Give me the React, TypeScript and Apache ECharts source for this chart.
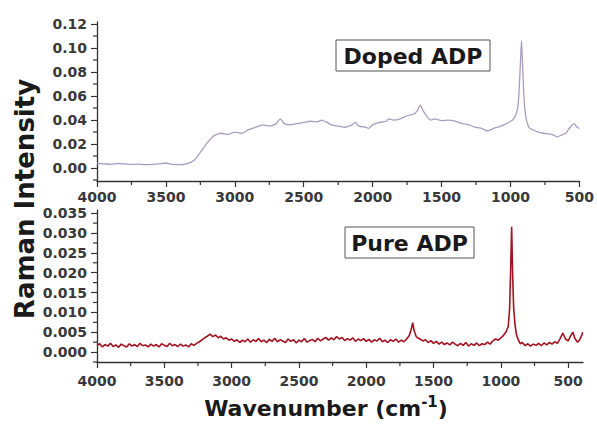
import React, { useEffect, useRef } from "react";
import * as echarts from "echarts";

const dopedWave = [4000,3950,3900,3850,3800,3750,3700,3650,3600,3550,3500,3450,3400,3350,3300,3250,3200,3150,3100,3050,3000,2950,2900,2850,2800,2750,2700,2670,2640,2600,2550,2500,2450,2400,2370,2330,2300,2250,2200,2150,2125,2100,2050,2030,2000,1950,1900,1885,1850,1800,1740,1700,1675,1655,1635,1600,1575,1550,1500,1450,1400,1350,1300,1260,1220,1165,1120,1070,1020,985,962,945,935,927,920,913,905,895,880,860,840,800,760,730,700,680,660,630,600,580,560,540,520,500];
const dopedIntensity = [0.0040,0.0035,0.0030,0.0038,0.0035,0.0030,0.0032,0.0028,0.0030,0.0035,0.0042,0.0030,0.0028,0.0035,0.0060,0.0130,0.0210,0.0270,0.0290,0.0280,0.0300,0.0290,0.0320,0.0340,0.0360,0.0350,0.0370,0.0410,0.0370,0.0360,0.0370,0.0380,0.0390,0.0385,0.0400,0.0380,0.0360,0.0350,0.0340,0.0360,0.0380,0.0350,0.0340,0.0330,0.0360,0.0380,0.0390,0.0410,0.0400,0.0410,0.0440,0.0450,0.0480,0.0525,0.0480,0.0420,0.0400,0.0410,0.0395,0.0400,0.0390,0.0370,0.0360,0.0340,0.0335,0.0310,0.0330,0.0350,0.0375,0.0400,0.0440,0.0520,0.0700,0.0900,0.1060,0.0880,0.0650,0.0480,0.0380,0.0330,0.0320,0.0300,0.0290,0.0285,0.0280,0.0270,0.0260,0.0275,0.0290,0.0320,0.0350,0.0370,0.0345,0.0330];

const pureWave = [4000,3980,3960,3940,3920,3900,3880,3860,3840,3820,3800,3780,3760,3740,3720,3700,3680,3660,3640,3620,3600,3580,3560,3540,3520,3500,3480,3460,3440,3420,3400,3380,3360,3340,3320,3300,3280,3260,3240,3220,3200,3180,3160,3140,3120,3100,3080,3060,3040,3020,3000,2980,2960,2940,2920,2900,2880,2860,2840,2820,2800,2780,2760,2740,2720,2700,2680,2660,2640,2620,2600,2580,2560,2540,2520,2500,2480,2460,2440,2420,2400,2380,2360,2340,2320,2300,2280,2260,2240,2220,2200,2180,2160,2140,2120,2100,2080,2060,2040,2020,2000,1980,1960,1940,1920,1900,1880,1860,1840,1820,1800,1780,1760,1740,1720,1700,1680,1665,1655,1645,1630,1620,1600,1580,1560,1540,1520,1500,1480,1460,1440,1420,1400,1380,1360,1340,1320,1300,1280,1260,1240,1220,1200,1180,1160,1140,1120,1100,1080,1060,1040,1020,1000,980,960,945,935,928,920,913,905,895,885,870,855,840,820,800,780,760,740,720,700,680,660,640,620,600,580,560,540,520,500,480,465,450,430,415,400,392];
const pureIntensity = [0.0016,0.0021,0.0013,0.0019,0.0015,0.0022,0.0014,0.0018,0.0012,0.0020,0.0016,0.0013,0.0021,0.0015,0.0019,0.0014,0.0022,0.0016,0.0018,0.0013,0.0020,0.0015,0.0019,0.0013,0.0021,0.0017,0.0014,0.0022,0.0016,0.0019,0.0014,0.0020,0.0015,0.0018,0.0013,0.0021,0.0017,0.0022,0.0026,0.0031,0.0036,0.0040,0.0045,0.0039,0.0043,0.0036,0.0040,0.0033,0.0036,0.0030,0.0033,0.0027,0.0031,0.0024,0.0030,0.0026,0.0033,0.0025,0.0031,0.0027,0.0034,0.0026,0.0030,0.0024,0.0032,0.0027,0.0035,0.0026,0.0031,0.0028,0.0024,0.0033,0.0027,0.0031,0.0023,0.0030,0.0026,0.0034,0.0025,0.0029,0.0032,0.0026,0.0035,0.0028,0.0033,0.0037,0.0030,0.0036,0.0031,0.0039,0.0033,0.0037,0.0029,0.0034,0.0030,0.0036,0.0027,0.0033,0.0029,0.0034,0.0027,0.0032,0.0025,0.0031,0.0028,0.0035,0.0026,0.0030,0.0024,0.0031,0.0027,0.0033,0.0025,0.0030,0.0026,0.0033,0.0042,0.0058,0.0074,0.0055,0.0040,0.0036,0.0033,0.0028,0.0031,0.0024,0.0029,0.0022,0.0027,0.0020,0.0025,0.0019,0.0023,0.0018,0.0025,0.0020,0.0016,0.0022,0.0017,0.0024,0.0015,0.0021,0.0017,0.0023,0.0016,0.0021,0.0019,0.0025,0.0020,0.0028,0.0033,0.0030,0.0036,0.0042,0.0052,0.0065,0.0110,0.0200,0.0316,0.0200,0.0110,0.0070,0.0045,0.0030,0.0021,0.0024,0.0016,0.0021,0.0015,0.0020,0.0017,0.0022,0.0016,0.0023,0.0018,0.0024,0.0020,0.0026,0.0022,0.0034,0.0048,0.0033,0.0028,0.0042,0.0050,0.0034,0.0025,0.0031,0.0042,0.0050];

const xMajorTicks = [4000, 3500, 3000, 2500, 2000, 1500, 1000, 500];
const xMinorTicks = [3750, 3250, 2750, 2250, 1750, 1250, 750];
const dopedYTicks = [0, 0.02, 0.04, 0.06, 0.08, 0.1, 0.12];
const dopedYMinor = [-0.01, 0.01, 0.03, 0.05, 0.07, 0.09, 0.11];
const pureYTicks = [0, 0.005, 0.01, 0.015, 0.02, 0.025, 0.03, 0.035];
const pureYMinor = [-0.0025, 0.0025, 0.0075, 0.0125, 0.0175, 0.0225, 0.0275, 0.0325];

const DOPED_X_MIN = 500;
const PURE_X_MIN = 390;
const DOPED_Y = [-0.0108, 0.1217];
const PURE_Y = [-0.0025, 0.0358];

const FONT = '"DejaVu Sans", Verdana, sans-serif';
const AXIS_COLOR = "#333333";
const LABEL_COLOR = "#383838";

function majorX(grid: number, min: number, margin: number) {
  return {
    type: "value", gridIndex: grid, inverse: true, min, max: 4000,
    axisLine: { show: true, onZero: false, lineStyle: { color: AXIS_COLOR, width: 1.3 } },
    axisTick: { show: true, length: 6, customValues: xMajorTicks, lineStyle: { color: AXIS_COLOR, width: 1.2 } },
    axisLabel: { show: true, customValues: xMajorTicks, margin, color: LABEL_COLOR, fontFamily: FONT, fontWeight: "bold", fontSize: 14, formatter: (v: number) => String(v) },
    splitLine: { show: false },
  };
}
function majorY(grid: number, range: number[], ticks: number[], digits: number) {
  return {
    type: "value", gridIndex: grid, min: range[0], max: range[1],
    axisLine: { show: true, onZero: false, lineStyle: { color: AXIS_COLOR, width: 1.3 } },
    axisTick: { show: true, length: 6, customValues: ticks, lineStyle: { color: AXIS_COLOR, width: 1.2 } },
    axisLabel: { show: true, customValues: ticks, margin: 10, color: LABEL_COLOR, fontFamily: FONT, fontWeight: "bold", fontSize: 14, formatter: (v: number) => v.toFixed(digits) },
    splitLine: { show: false },
  };
}

export default function App() {
  const ref = useRef<HTMLDivElement>(null);
  useEffect(() => {
    if (!ref.current) return;
    const chart = echarts.init(ref.current, undefined, { renderer: "svg" });
    const baseGraphic: any[] = [
      { type: "rect", shape: { x: 336, y: 40, width: 154, height: 31 }, style: { fill: "#fff", stroke: "#555", lineWidth: 1 }, z: 10 },
      { type: "text", x: 413, y: 56, z: 11, style: { text: "Doped ADP", font: `bold 22px ${FONT}`, fill: "#1a1a1a", textAlign: "center", textVerticalAlign: "middle" } },
      { type: "rect", shape: { x: 345, y: 227, width: 129, height: 31 }, style: { fill: "#fff", stroke: "#555", lineWidth: 1 }, z: 10 },
      { type: "text", x: 409.5, y: 243, z: 11, style: { text: "Pure ADP", font: `bold 22px ${FONT}`, fill: "#1a1a1a", textAlign: "center", textVerticalAlign: "middle" } },
      { type: "text", x: 25, y: 199, rotation: Math.PI / 2, z: 11, style: { text: "Raman Intensity", font: `bold 26px ${FONT}`, fill: "#1a1a1a", textAlign: "center", textVerticalAlign: "middle" } },
      {
        type: "text", x: 326, y: 408, z: 11,
        style: {
          text: "Wavenumber (cm{sup|-1})",
          font: `bold 22px ${FONT}`, fill: "#1a1a1a", textAlign: "center", textVerticalAlign: "middle",
          rich: { sup: { fontFamily: FONT, fontWeight: "bold", fontSize: 15, fill: "#1a1a1a", padding: [0, 0, 12, 0] } },
        },
      },
    ];
    chart.setOption({
      animation: false,
      backgroundColor: "#ffffff",
      grid: [
        { left: 97, top: 22, width: 485, height: 159 },
        { left: 97, top: 210, width: 486, height: 152 },
      ],
      xAxis: [majorX(0, DOPED_X_MIN, 9), majorX(1, PURE_X_MIN, 12)],
      yAxis: [majorY(0, DOPED_Y, dopedYTicks, 2), majorY(1, PURE_Y, pureYTicks, 3)],
      series: [
        {
          name: "Doped ADP", type: "line", xAxisIndex: 0, yAxisIndex: 0,
          data: dopedWave.map((w, i) => [w, dopedIntensity[i]]),
          showSymbol: false, smooth: 0.2,
          lineStyle: { color: "#ab9cbf", width: 1.3 },
        },
        {
          name: "Pure ADP", type: "line", xAxisIndex: 1, yAxisIndex: 1,
          data: pureWave.map((w, i) => [w, pureIntensity[i]]),
          showSymbol: false,
          lineStyle: { color: "#a3121f", width: 1.6 },
        },
      ],
      graphic: baseGraphic,
    });

    // minor ticks placed through the chart's own scales
    const minorTicks: any[] = [];
    const addX = (grid: number, yMin: number) => {
      xMinorTicks.forEach((v) => {
        const p = chart.convertToPixel({ gridIndex: grid } as any, [v, yMin]) as number[];
        if (p) minorTicks.push({ type: "line", z: 5, shape: { x1: p[0], y1: p[1], x2: p[0], y2: p[1] + 4 }, style: { stroke: AXIS_COLOR, lineWidth: 1.2 } });
      });
    };
    const addY = (grid: number, xMax: number, vals: number[]) => {
      vals.forEach((v) => {
        const p = chart.convertToPixel({ gridIndex: grid } as any, [xMax, v]) as number[];
        if (p) minorTicks.push({ type: "line", z: 5, shape: { x1: p[0] - 4, y1: p[1], x2: p[0], y2: p[1] }, style: { stroke: AXIS_COLOR, lineWidth: 1.2 } });
      });
    };
    addX(0, DOPED_Y[0]);
    addX(1, PURE_Y[0]);
    addY(0, 4000, dopedYMinor);
    addY(1, 4000, pureYMinor);
    chart.setOption({ graphic: baseGraphic.concat(minorTicks) });

    return () => chart.dispose();
  }, []);
  return <div ref={ref} style={{ position: "fixed", left: 0, top: 0, width: 597, height: 426 }} />;
}
